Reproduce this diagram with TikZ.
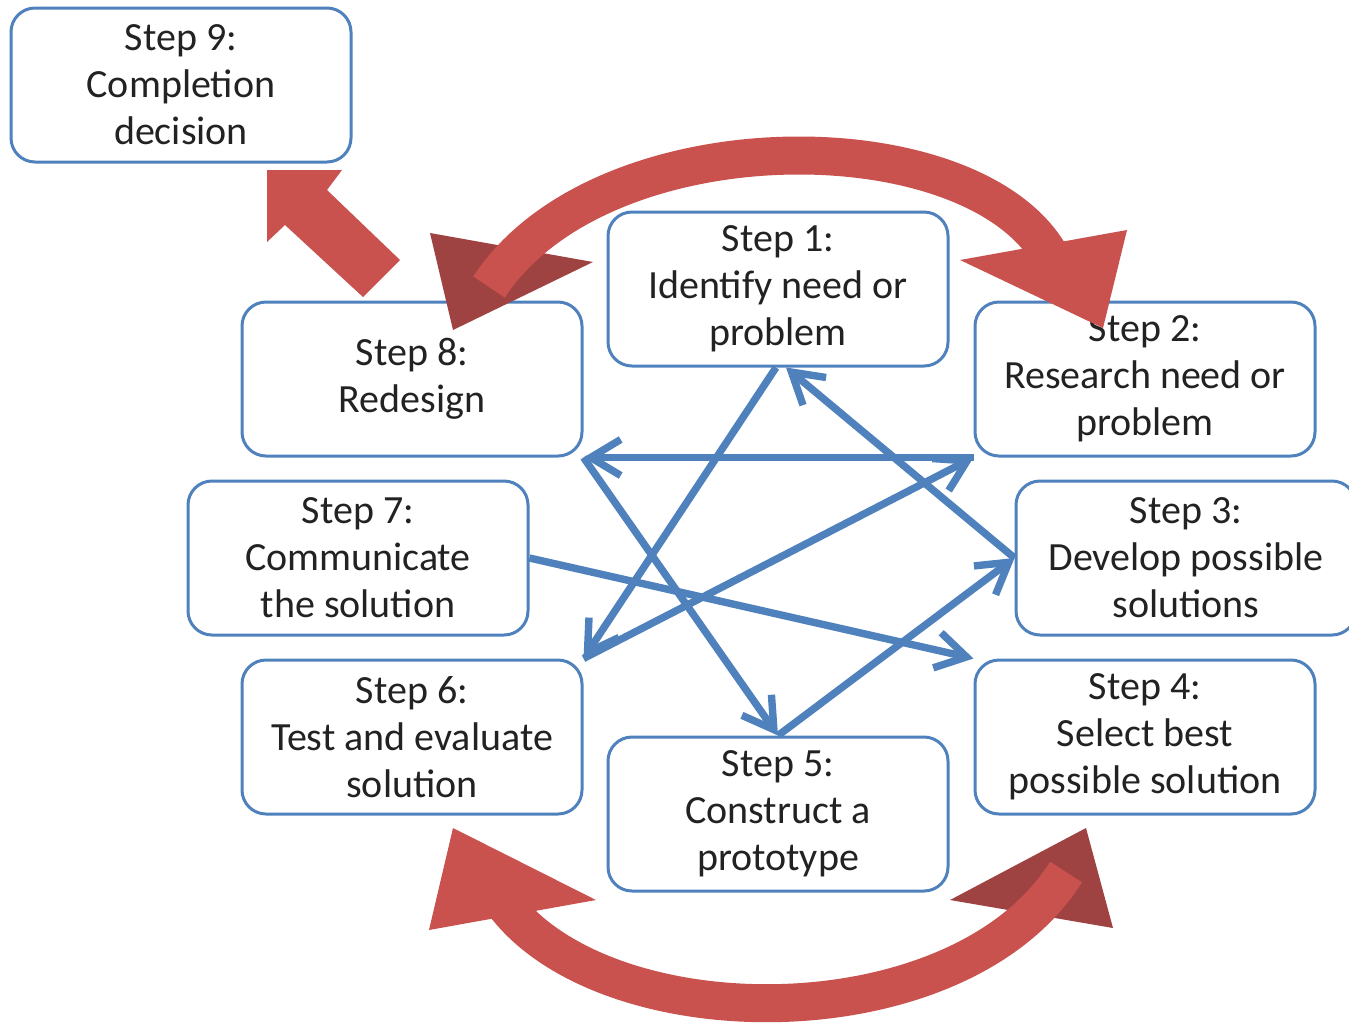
\documentclass[tikz,border=0pt]{standalone}
\usepackage{fontspec}
\setmainfont{Carlito}
\usetikzlibrary{arrows.meta}
\definecolor{boxblue}{HTML}{4F81BD}
\definecolor{arrred}{HTML}{C9524F}
\definecolor{arrdark}{HTML}{9E4341}
\definecolor{txtgray}{HTML}{222222}
\begin{document}
\begin{tikzpicture}[x=0.5pt, y=-0.5pt,
    stepbox/.style={draw=boxblue, line width=1.5pt, rounded corners=12pt, fill=white,
      minimum width=170pt, minimum height=77pt, inner sep=0pt, align=center,
      text=txtgray, font=\fontsize{20}{23.5}\selectfont},
    link/.style={draw=boxblue, line width=3.7pt, line join=round,
      -{Straight Barb[length=15pt, width=18pt]}},
    band/.style={draw=arrred, line width=19pt}]
      \useasboundingbox (0,0) rectangle (1349,1024);
      %
      \node[stepbox] (s9) at (181,85)  {Step 9:\\Completion\\decision};   % top left
      \node[stepbox] (s1) at (778,289) {Step 1:\\Identify need or\\problem};
      \node[stepbox] (s8) at (412,379) {Step 8:\\Redesign};               % left column
      \node[stepbox] (s7) at (358,558) {Step 7:\\Communicate\\the solution};
      \node[stepbox] (s6) at (412,737) {Step 6:\\Test and evaluate\\solution};
      \node[stepbox] (s2) at (1145,379) {Step 2:\\Research need or\\problem}; % right column
      \node[stepbox] (s3) at (1186,558) {Step 3:\\Develop possible\\solutions};
      \node[stepbox] (s4) at (1145,737) {Step 4:\\Select best\\possible solution};
      \node[stepbox] (s5) at (778,814) {Step 5:\\Construct a\\prototype};   % bottom
      %
      \draw[link] (s3.west) -- ([xshift=4pt]s1.south);      % star
      \draw[link] ([xshift=-1pt]s1.south) -- (s6.north east);
      \draw[link] (s6.north east) -- (s2.south west);
      \draw[link] (s2.south west) -- (s8.south east);
      \draw[link] (s8.south east) -- (s5.north);
      \draw[link] (s5.north) -- (s3.west);
      \draw[link] (s7.east) -- (s4.north west);
      %
      \fill[arrdark] (430,233) -- (593,262) -- (453,330) -- cycle;  % top arc
      \draw[band] (489,287) .. controls (600,118) and (965,118) .. (1048,252);
      \fill[arrred] (960,260) -- (1127,230) -- (1103,328) -- cycle;
      %
      \fill[arrdark] (950,900) -- (1086,828) -- (1113,928) -- cycle; % bottom arc
      \draw[band] (505,905) .. controls (610,1041) and (960,1041) .. (1066,872);
      \fill[arrred] (453,828) -- (596,900) -- (429,930) -- cycle;
      %
      \fill[arrred] (267,170) -- (342,170) -- (327,190) -- (400,260)  % to step 9
        -- (363,297) -- (285,225) -- (267,242) -- cycle;
      %
\end{tikzpicture}
\end{document}
